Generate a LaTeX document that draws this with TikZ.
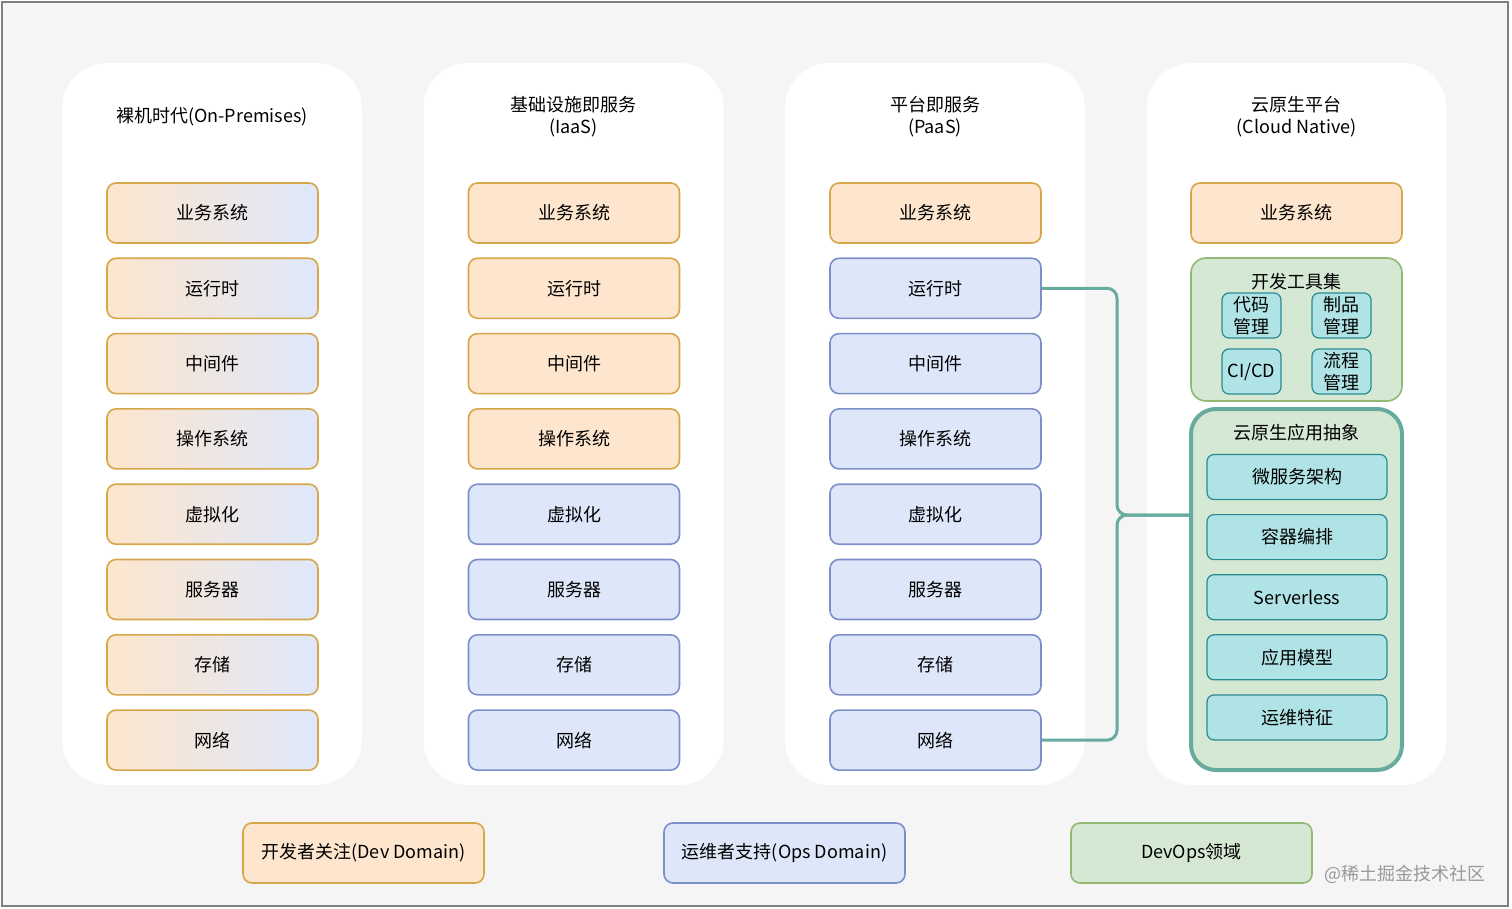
\documentclass[tikz,border=0pt]{standalone}
\usepackage{fontspec}
\setmainfont{Noto Sans CJK SC}
\usepackage{xcolor}
\usetikzlibrary{positioning}

\definecolor{canvas}{HTML}{F5F5F5}
\definecolor{framegray}{HTML}{808080}
\definecolor{devfill}{HTML}{FDE6CD}
\definecolor{devline}{HTML}{D6A64A}
\definecolor{opsfill}{HTML}{DEE7FA}
\definecolor{opsline}{HTML}{7D8FC9}
\definecolor{greenfill}{HTML}{D5E8D4}
\definecolor{greenline}{HTML}{93B874}
\definecolor{tealfill}{HTML}{B0E3E6}
\definecolor{tealline}{HTML}{2A8A90}
\definecolor{linkcol}{HTML}{67AB9F}
\definecolor{markgray}{HTML}{999999}

\begin{document}
\begin{tikzpicture}[x=1pt, y=-1pt, font=\fontsize{18}{22}\selectfont,
  panel/.style={fill=white, rounded corners=45, minimum width=300, minimum height=722, inner sep=0},
  layer/.style={rounded corners=9, line width=1.6, minimum width=211, minimum height=60, inner sep=0},
  devbox/.style={fill=devfill, draw=devline},
  opsbox/.style={fill=opsfill, draw=opsline},
  mixbox/.style={left color=devfill, right color=opsfill, draw=devline},
  greenbox/.style={fill=greenfill, draw=greenline},
  tool/.style={fill=tealfill, draw=tealline, line width=1.2, rounded corners=7, minimum width=59, minimum height=45, inner sep=0, align=center},
  cnabox/.style={fill=greenfill, draw=linkcol, line width=4, rounded corners=25, minimum width=211, minimum height=361},
  link/.style={draw=linkcol, line width=3, rounded corners=10}]

  % Canvas and frame
  \useasboundingbox (0,0) rectangle (1512,909);
  \draw[framegray, line width=2, fill=canvas] (2,2) rectangle (1508,906);

  % Column panels
  \node[panel] (bmcol) at (212,424) {};
  \node[panel] (iaascol) at (573.5,424) {};
  \node[panel] (paascol) at (935,424) {};
  \node[panel] (cncol) at (1296.5,424) {};

  % Column titles
  \node[align=center] (bmtitle) at (212,117) {裸机时代(On-Premises)};
  \node[align=center] (iaastitle) at (573.5,117) {基础设施即服务\\(IaaS)};
  \node[align=center] (paastitle) at (935,117) {平台即服务\\(PaaS)};
  \node[align=center] (cntitle) at (1296.5,117) {云原生平台\\(Cloud Native)};

  % Stack layers
  \def\rowgap{75.3}
  \foreach \lbl [count=\i] in {业务系统,运行时,中间件,操作系统,虚拟化,服务器,存储,网络} {
    \node[layer, mixbox] (bm\i) at (212.5, {213+\rowgap*(\i-1)}) {\lbl};
    \ifnum\i<5 \def\sty{devbox}\else\def\sty{opsbox}\fi
    \node[layer, \sty] (iaas\i) at (574, {213+\rowgap*(\i-1)}) {\lbl};
    \ifnum\i<2 \def\sty{devbox}\else\def\sty{opsbox}\fi
    \node[layer, \sty] (paas\i) at (935.5, {213+\rowgap*(\i-1)}) {\lbl};
  }

  % Cloud native column
  \node[layer, devbox] (cn1) at (1296.5,213) {业务系统};
  \node[layer, greenbox, rounded corners=15, minimum height=143] (tools) at (1296.5,329.5) {};
  \node (toolstitle) at (1296.5,282) {开发工具集};
  \node[tool] (code) at (1251.5,315.5) {代码\\管理};
  \node[tool] (artifact) at (1341.5,315.5) {制品\\管理};
  \node[tool] (cicd) at (1251.5,371.5) {CI/CD};
  \node[tool] (flow) at (1341.5,371.5) {流程\\管理};

  \node[cnabox] (cna) at (1296.5,589.5) {};
  \node (cnatitle) at (1296.5,433) {云原生应用抽象};
  \foreach \lbl [count=\i] in {微服务架构,容器编排,Serverless,应用模型,运维特征}
    \node[tool, minimum width=180] (abs\i) at (1297, {477+60.1*(\i-1)}) {\lbl};

  % Brace connector
  \coordinate (brace) at (1117,515);
  \draw[link] (paas2.east) -| (brace) -- (brace -| cna.west);
  \draw[link] (paas8.east) -| (brace) -- (brace -| cna.west);

  % Legend
  \node[layer, devbox, minimum width=241] (devlegend) at (363.5,853) {开发者关注(Dev Domain)};
  \node[layer, opsbox, minimum width=241] (opslegend) at (784.5,853) {运维者支持(Ops Domain)};
  \node[layer, greenbox, minimum width=241] (devopslegend) at (1191.5,853) {DevOps领域};
  \node[text=markgray, anchor=east] (mark) at (1489,874) {@稀土掘金技术社区};

\end{tikzpicture}
\end{document}
